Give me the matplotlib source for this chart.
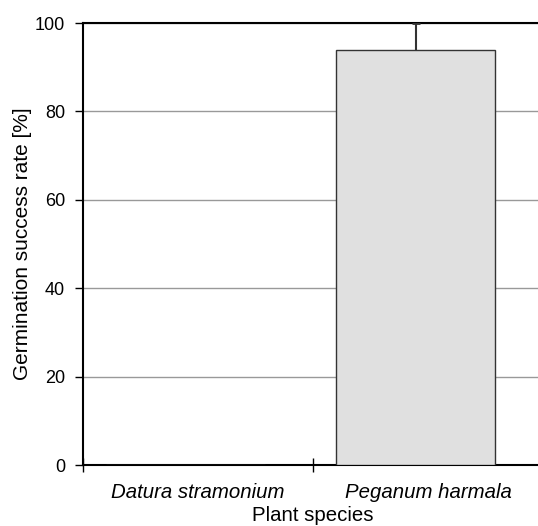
import matplotlib
matplotlib.use("Agg")
import matplotlib.pyplot as plt

plt.rcParams['font.family'] = ['Liberation Sans', 'DejaVu Sans']

# Datos
especies = ['Datura stramonium', 'Peganum harmala']
germinacion = [0.0, 94.0]
error_sup = [0.0, 6.0]

fig = plt.figure(figsize=(5.38, 5.26), dpi=100)
ax = fig.add_axes([83/538, (526-465)/526, (543-83)/538, (465-23)/526])

pos = [i - 0.054 for i in range(len(especies))]
ax.bar(pos, germinacion, width=0.69, color='#e0e0e0', edgecolor='#333333', linewidth=1.0, zorder=3)
eb = ax.errorbar(pos[1:], germinacion[1:], yerr=[[0], error_sup[1:]], fmt='none',
                 ecolor='#333333', elinewidth=1.5, capsize=3, capthick=2, zorder=4)
# solo el cap superior
eb[1][0].set_visible(False)

ax.set_xlim(-0.5, 1.5)
ax.set_ylim(0, 100)
ax.set_yticks([0, 20, 40, 60, 80, 100])
ax.set_xticks(range(len(especies)))
ax.set_xticklabels(especies, style='italic', fontsize=14.7)
ax.tick_params(axis='x', length=0, pad=13)
ax.set_xticks([-0.5, 0.5, 1.5], minor=True)
ax.tick_params(axis='x', which='minor', direction='inout', length=10, width=1)
ax.tick_params(axis='y', direction='out', length=6, width=1, labelsize=13, pad=7)

ax.yaxis.grid(True, color='#999999', linewidth=1, zorder=0)
for s in ['left', 'bottom', 'top', 'right']:
    ax.spines[s].set_linewidth(1.5)
    ax.spines[s].set_color('black')

ax.set_xlabel('Plant species', fontsize=14.7, labelpad=3)
ax.set_ylabel('Germination success rate [%]', fontsize=15, labelpad=2)

fig.savefig('out.png', dpi=100)
